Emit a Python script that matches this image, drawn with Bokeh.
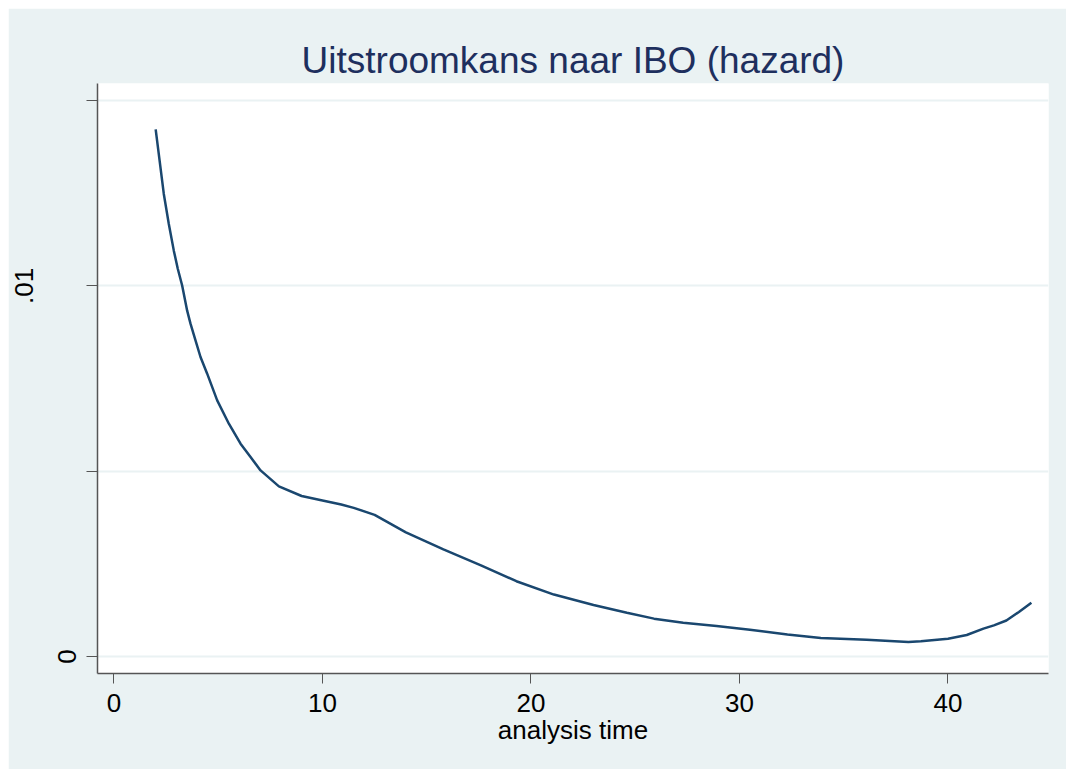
from bokeh.plotting import figure
from bokeh.models import Range1d, FixedTicker, Spacer, LinearAxis
from bokeh.layouts import row, column
from bokeh.embed import file_html
from bokeh.resources import INLINE

# data
time = [2.0, 2.39, 2.63, 2.87, 3.06, 3.27, 3.51, 3.67, 3.91, 4.15, 4.47, 4.95,
        5.51, 6.07, 6.55, 7.03, 7.91, 9, 10, 10.9, 11.5, 12.5, 14,
        15.8, 17.6, 19.3, 21.1, 23, 24.6, 25.9, 27.3, 28.9, 30.5, 32.3, 33.9,
        36.1, 38.1, 38.7, 40, 40.9, 41.7, 42.2, 42.8, 43.4, 44]
hazard = [0.01422, 0.01248, 0.01167, 0.01095, 0.01046, 0.01001, 0.00933,
          0.00898, 0.00853, 0.00808, 0.00763, 0.00691, 0.00628, 0.00574,
          0.00538, 0.00502, 0.00459, 0.00433, 0.00421, 0.00410, 0.00401,
          0.00382, 0.00335, 0.00289, 0.00246, 0.00203, 0.00167, 0.00139,
          0.00118, 0.00102, 0.00091, 0.00082, 0.00072, 0.00059, 0.00050,
          0.00045, 0.00039, 0.00041, 0.00048, 0.00058, 0.00075, 0.00084,
          0.00097, 0.00120, 0.00145]
x_ticks = [0, 10, 20, 30, 40]
y_ticks = [0, 0.005, 0.01, 0.015]
y_labels = {0: "0", 0.005: "", 0.01: "", 0.015: ""}
y_outer_ticks = [0.01]
y_outer_labels = {0.01: ".01"}
title_text = "Uitstroomkans naar IBO (hazard)"
x_title = "analysis time"

BG = "#EAF2F3"
FONT = "Liberation Sans"
AX = "#555555"

p = figure(width=1058, height=761, output_backend="svg", toolbar_location=None,
           x_range=Range1d(-0.79, 44.82), y_range=Range1d(-0.00046, 0.01546),
           min_border_left=89, min_border_right=18, min_border_top=75,
           min_border_bottom=96)
p.background_fill_color = "white"
p.border_fill_color = BG
p.outline_line_color = None

p.title.text = title_text
p.title.align = "center"
p.title.text_font = FONT
p.title.text_font_size = "37px"
p.title.text_font_style = "normal"
p.title.text_color = "#1e2f5e"
p.title.standoff = 6

p.line(time, hazard, line_color="#1a476f", line_width=2.5)

# x axis
xa = p.xaxis[0]
xa.ticker = FixedTicker(ticks=x_ticks)
xa.minor_tick_line_color = None
xa.major_tick_out = 10
xa.major_tick_in = 0
xa.axis_line_color = AX
xa.major_tick_line_color = AX
xa.axis_line_width = 1.5
xa.major_label_text_font = FONT
xa.major_label_text_font_size = "26px"
xa.major_label_text_color = "black"
xa.major_label_standoff = 10
xa.axis_label = x_title
xa.axis_label_text_font = FONT
xa.axis_label_text_font_size = "26px"
xa.axis_label_text_font_style = "normal"
xa.axis_label_text_color = "black"
xa.axis_label_standoff = 0

# y axis
ya = p.yaxis[0]
ya.ticker = FixedTicker(ticks=y_ticks)
ya.major_label_overrides = y_labels
ya.minor_tick_line_color = None
ya.major_tick_out = 11
ya.major_tick_in = 0
ya.axis_line_color = AX
ya.major_tick_line_color = AX
ya.axis_line_width = 1.5
ya.major_label_text_font = FONT
ya.major_label_text_font_size = "26px"
ya.major_label_text_color = "black"
ya.major_label_orientation = "vertical"
ya.major_label_standoff = 10

# outer label column carrying the ".01" label further left
ya2 = LinearAxis(ticker=FixedTicker(ticks=y_outer_ticks),
                 major_label_overrides=y_outer_labels)
ya2.axis_line_color = None
ya2.major_tick_line_color = None
ya2.minor_tick_line_color = None
ya2.major_tick_out = 0
ya2.major_tick_in = 0
ya2.major_label_text_font = FONT
ya2.major_label_text_font_size = "26px"
ya2.major_label_text_color = "black"
ya2.major_label_orientation = "vertical"
ya2.major_label_standoff = 22
p.add_layout(ya2, "left")

p.xgrid.grid_line_color = None
p.ygrid.ticker = FixedTicker(ticks=y_ticks)
p.ygrid.grid_line_color = BG
p.ygrid.grid_line_width = 2

layout = column(Spacer(width=1066, height=8),
                row(Spacer(width=8, height=761), p))
open("out.html", "w").write(file_html(layout, INLINE))
